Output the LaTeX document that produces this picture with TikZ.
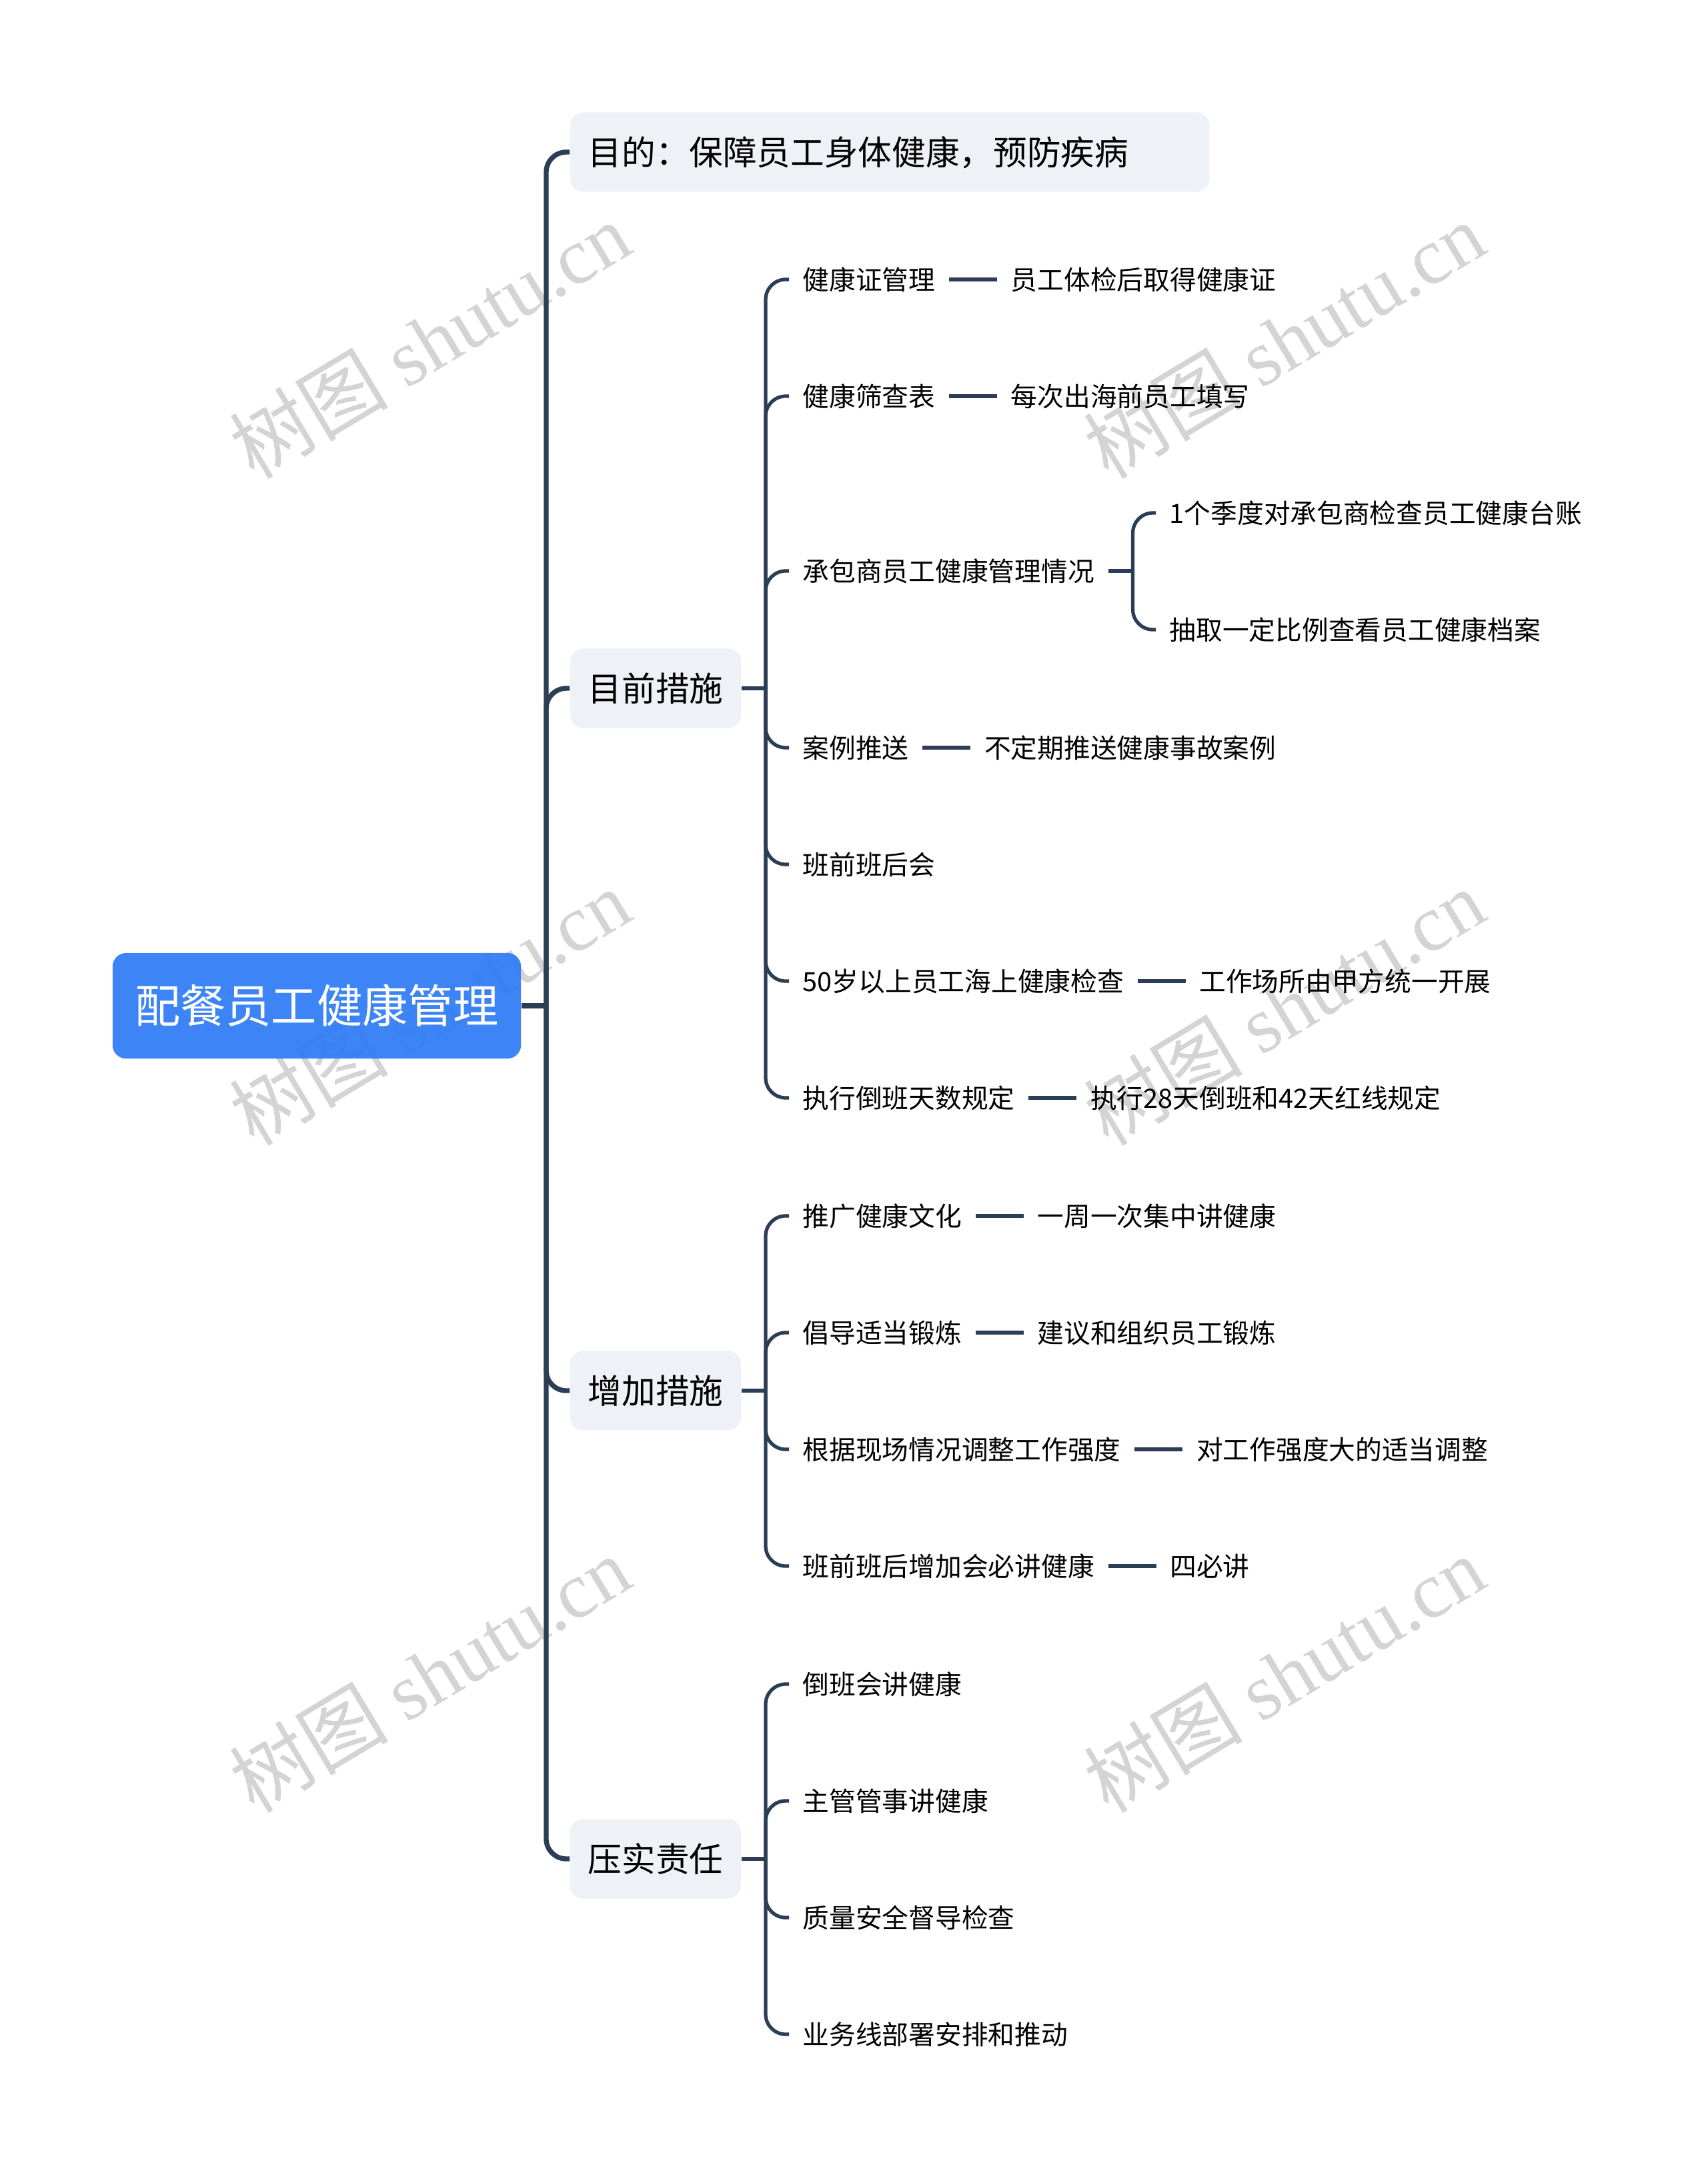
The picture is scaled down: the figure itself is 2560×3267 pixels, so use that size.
\documentclass[tikz,border=0pt]{standalone}
\usepackage{fontspec}
\setmainfont{Noto Sans CJK SC}
\newfontfamily\wmfont{Liberation Serif}
\usetikzlibrary{positioning}
\definecolor{linec}{HTML}{2C3E55}
\definecolor{rootc}{HTML}{2F7CF6}
\definecolor{boxc}{HTML}{EEF1F5}
\definecolor{wmc}{RGB}{212,212,212}
\begin{document}
\begin{tikzpicture}[x=0.01cm,y=-0.01cm,
  conn/.style={draw=linec, line width=1.5pt, rounded corners=0.3cm},
  trunk/.style={draw=linec, line width=2.1pt, rounded corners=0.3cm},
  rootbox/.style={fill=rootc, fill opacity=0.93, text opacity=1, rounded corners=0.2cm, text=white,
    font=\fontsize{19.4pt}{23pt}\selectfont, minimum width=6.12cm, minimum height=1.58cm,
    inner sep=0pt, text height=17.07pt, text depth=2.33pt},
  l1box/.style={fill=boxc, rounded corners=0.2cm, font=\fontsize{14.4pt}{17pt}\selectfont,
    minimum height=1.19cm, inner xsep=0.27cm, inner ysep=0pt, anchor=west,
    text height=12.67pt, text depth=1.73pt},
  l2/.style={font=\fontsize{11.3pt}{14pt}\selectfont, inner xsep=0.2cm, inner ysep=0.1cm,
    anchor=west, text height=9.94pt, text depth=1.36pt},
  wm/.style={rotate=31, text=wmc, font=\fontsize{34pt}{38pt}\selectfont},
]
\useasboundingbox (0,0) rectangle (2560,3267);
\fill[white] (0,0) rectangle (2560,3267);

% watermarks (behind)
\foreach \wx in {644,1925} {
  \foreach \wy in {510,1510,2510} {
    \node[wm] at (\wx,\wy) {树图 {\wmfont shutu.cn}};
  }
}

% root
\node[rootbox] (root) at (475,1508) {配餐员工健康管理};

% level 1
\node[l1box, text width=9.04cm, align=left] (p0) at (854,228) {目的：保障员工身体健康，预防疾病};
\node[l1box] (p1) at (854,1032) {目前措施};
\node[l1box] (p2) at (854,2085) {增加措施};
\node[l1box] (p3) at (854,2787) {压实责任};

\coordinate (j0) at (819,1508);
\draw[trunk] (root.east) -- (j0);
\foreach \p in {p0,p1,p2,p3} { \draw[trunk] (j0) |- (\p.west); }

% level 2 under p1
\node[l2] (a1) at (1183,419) {健康证管理};
\node[l2] (a2) at (1183,594) {健康筛查表};
\node[l2] (a3) at (1183,856) {承包商员工健康管理情况};
\node[l2] (a4) at (1183,1121) {案例推送};
\node[l2] (a5) at (1183,1296) {班前班后会};
\node[l2] (a6) at (1183,1471) {50岁以上员工海上健康检查};
\node[l2] (a7) at (1183,1646) {执行倒班天数规定};
\coordinate (j1) at (1148,1032);
\draw[conn] (p1.east) -- (j1);
\foreach \c in {a1,a2,a3,a4,a5,a6,a7} { \draw[conn] (j1) |- (\c.west); }

% level 3 under p1
\node[l2, right=0.72cm of a1] (b1) {员工体检后取得健康证};
\node[l2, right=0.72cm of a2] (b2) {每次出海前员工填写};
\node[l2, right=0.72cm of a4] (b4) {不定期推送健康事故案例};
\node[l2, right=0.72cm of a6] (b6) {工作场所由甲方统一开展};
\node[l2, right=0.72cm of a7] (b7) {执行28天倒班和42天红线规定};
\foreach \s/\t in {a1/b1,a2/b2,a4/b4,a6/b6,a7/b7} { \draw[conn] (\s.east) -- (\t.west); }

\coordinate (j13) at ([xshift=0.37cm]a3.east);
\node[l2] (c1) at (1733,769) {1个季度对承包商检查员工健康台账};
\node[l2] (c2) at (1733,944) {抽取一定比例查看员工健康档案};
\draw[conn] (a3.east) -- (j13);
\draw[conn] (j13) |- (c1.west);
\draw[conn] (j13) |- (c2.west);

% level 2 under p2
\node[l2] (d1) at (1183,1823) {推广健康文化};
\node[l2] (d2) at (1183,1998) {倡导适当锻炼};
\node[l2] (d3) at (1183,2173) {根据现场情况调整工作强度};
\node[l2] (d4) at (1183,2348) {班前班后增加会必讲健康};
\coordinate (j2) at (1148,2085);
\draw[conn] (p2.east) -- (j2);
\foreach \c in {d1,d2,d3,d4} { \draw[conn] (j2) |- (\c.west); }

\node[l2, right=0.72cm of d1] (e1) {一周一次集中讲健康};
\node[l2, right=0.72cm of d2] (e2) {建议和组织员工锻炼};
\node[l2, right=0.72cm of d3] (e3) {对工作强度大的适当调整};
\node[l2, right=0.72cm of d4] (e4) {四必讲};
\foreach \s/\t in {d1/e1,d2/e2,d3/e3,d4/e4} { \draw[conn] (\s.east) -- (\t.west); }

% level 2 under p3
\node[l2] (f1) at (1183,2525) {倒班会讲健康};
\node[l2] (f2) at (1183,2700) {主管管事讲健康};
\node[l2] (f3) at (1183,2875) {质量安全督导检查};
\node[l2] (f4) at (1183,3050) {业务线部署安排和推动};
\coordinate (j3) at (1148,2787);
\draw[conn] (p3.east) -- (j3);
\foreach \c in {f1,f2,f3,f4} { \draw[conn] (j3) |- (\c.west); }

\end{tikzpicture}
\end{document}
